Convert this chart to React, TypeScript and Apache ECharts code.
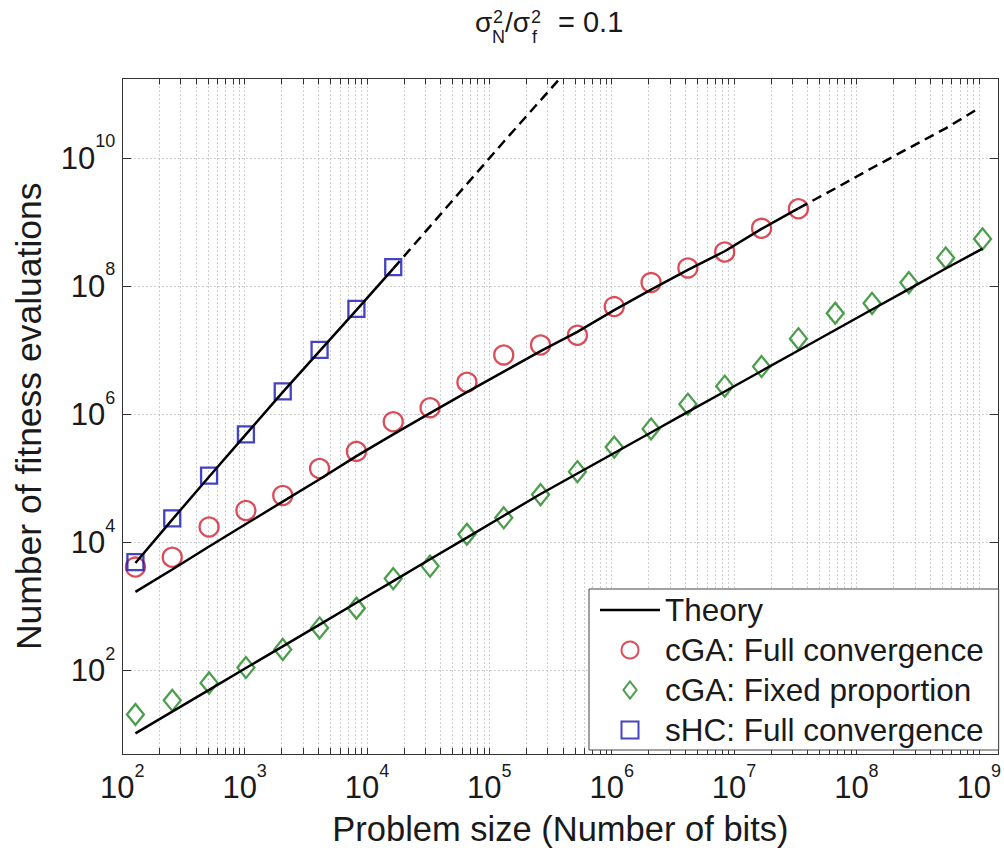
import React, { useEffect, useRef } from "react";
import * as echarts from "echarts";

const FONT = "'Liberation Sans', Arial, Helvetica, sans-serif";
const TXT = "#1a1a1a";

// ---- axis ticks ----
const xMajorTicks = [1e2, 1e3, 1e4, 1e5, 1e6, 1e7, 1e8, 1e9];
const xMinorMultipliers = [2, 3, 4, 5, 6, 7, 8, 9];
const yMajorTicks = [1e2, 1e4, 1e6, 1e8, 1e10];
const xRange = [100, 1.452e9];
const yRange = [5, 1.77e11];

// ---- sHC: full convergence ----
const shcN = [128, 256, 512, 1024, 2048, 4096, 8192, 16384];
const shcEvals = [4.95e3, 2.39e4, 1.11e5, 4.92e5, 2.3e6, 1.02e7, 4.46e7, 2.0e8];
const shcTheory = [4.8e3, 2.29e4, 1.07e5, 4.9e5, 2.24e6, 9.8e6, 4.27e7, 1.9e8];
const shcExtN = [16384, 32768, 65536, 131072, 262144, 524288];
const shcExtTheory = [1.9e8, 8.7e8, 3.98e9, 1.82e10, 8.1e10, 3.6e11];

// ---- cGA: full convergence ----
const cgaFullN = [128, 256, 512, 1024, 2048, 4096, 8192, 16384, 32768, 65536, 131072, 262144, 524288, 1048576, 2097152, 4194304, 8388608, 16777216, 33554432];
const cgaFullEvals = [4.15e3, 5.9e3, 1.75e4, 3.17e4, 5.46e4, 1.44e5, 2.66e5, 7.73e5, 1.28e6, 3.19e6, 8.53e6, 1.22e7, 1.73e7, 4.85e7, 1.15e8, 1.95e8, 3.45e8, 8.09e8, 1.64e9];
const cgaFullTheory = [1.7e3, 3.8e3, 8.71e3, 1.95e4, 4.37e4, 9.77e4, 2.24e5, 4.9e5, 1.05e6, 2.24e6, 4.68e6, 9.77e6, 1.95e7, 4.27e7, 8.91e7, 1.82e8, 3.55e8, 7.94e8, 1.66e9];
const cgaFullExtN = [33554432, 67108864, 134217728, 268435456, 536870912, 1e9];
const cgaFullExtTheory = [1.66e9, 3.39e9, 7.08e9, 1.45e10, 2.95e10, 6.07e10];

// ---- cGA: fixed proportion ----
const cgaFixedN = [128, 256, 512, 1024, 2048, 4096, 8192, 16384, 32768, 65536, 131072, 262144, 524288, 1048576, 2097152, 4194304, 8388608, 16777216, 33554432, 67108864, 134217728, 268435456, 536870912, 1073741824];
const cgaFixedEvals = [20.7, 34.5, 64.4, 112, 215, 465, 944, 2.74e3, 4.3e3, 1.35e4, 2.44e4, 5.62e4, 1.28e5, 3.1e5, 5.96e5, 1.45e6, 2.77e6, 5.62e6, 1.53e7, 3.82e7, 5.45e7, 1.15e8, 2.79e8, 5.53e8];
const cgaFixedTheory = [10.5, 22.9, 50.1, 110, 240, 525, 1.15e3, 2.51e3, 5.5e3, 1.2e4, 2.63e4, 5.75e4, 1.2e5, 2.51e5, 5.25e5, 1.1e6, 2.29e6, 4.79e6, 1.0e7, 2.09e7, 4.37e7, 9.12e7, 1.91e8, 3.89e8];

const legendNames = ["Theory", "cGA: Full convergence", "cGA: Fixed proportion", "sHC: Full convergence"];
const legendIcons = [
  "path://M0,0L60,0L60,2.6L0,2.6Z",
  "circle",
  "path://M7,0L14,9L7,18L0,9Z",
  "path://M0,0L14,0L14,14L0,14Z",
];

const zip = (xs: number[], ys: number[]) => xs.map((x, i) => [x, ys[i]]);

const xAllTicks: number[] = [];
xMajorTicks.forEach((d) => {
  xAllTicks.push(d);
  xMinorMultipliers.forEach((m) => {
    if (m * d <= xRange[1]) xAllTicks.push(m * d);
  });
});

const expLabel = (v: number) => `{b|10}{s|${Math.round(Math.log10(v))}}`;
const richLabel = {
  b: { fontSize: 31, fontFamily: FONT, color: TXT, lineHeight: 52 },
  s: { fontSize: 18, fontFamily: FONT, color: TXT, lineHeight: 18, verticalAlign: "top" },
};

const axisLineStyle = { color: "#333", width: 1 };
const gridLineStyle = { type: [1.2, 2.8], color: "#b0b0b0", width: 1 };

const theoryLine = (name: string, data: number[][], dashed: boolean) => ({
  type: "line",
  name,
  data,
  symbol: "none",
  silent: true,
  clip: true,
  color: "#000",
  itemStyle: { color: "#000" },
  lineStyle: { color: "#000", width: 2.5, type: dashed ? [10, 6] : "solid" },
  emphasis: { disabled: true },
});

const markerSeries = (name: string, data: number[][], symbol: string, size: any, color: string) => ({
  type: "scatter",
  name,
  data,
  symbol,
  symbolSize: size,
  clip: false,
  silent: true,
  color,
  itemStyle: { color: "rgba(255,255,255,0)", borderColor: color, borderWidth: 2.3 },
  emphasis: { disabled: true },
});

const titleParts = [
  { text: "σ", x: 475, y: 22.3, size: 28 },
  { text: "2", x: 493, y: 16.8, size: 18 },
  { text: "N", x: 492, y: 36.8, size: 18 },
  { text: "/σ", x: 505, y: 22.3, size: 28 },
  { text: "2", x: 531, y: 16.8, size: 18 },
  { text: "f", x: 532, y: 36.8, size: 18 },
  { text: "= 0.1", x: 558, y: 22.3, size: 29 },
];

export default function App() {
  const ref = useRef<HTMLDivElement>(null);

  useEffect(() => {
    if (!ref.current) return;
    const chart = echarts.init(ref.current, undefined, { renderer: "svg" });

    const option: any = {
      animation: false,
      backgroundColor: "#fff",
      textStyle: { fontFamily: FONT },
      grid: { left: 122.3, top: 78.5, right: 1.6, bottom: 88, containLabel: false },
      graphic: titleParts.map((p) => ({
        type: "text",
        x: p.x,
        y: p.y,
        silent: true,
        style: {
          text: p.text,
          fontSize: p.size,
          fontFamily: FONT,
          fill: TXT,
          align: "left",
          verticalAlign: "middle",
          textAlign: "left",
          textVerticalAlign: "middle",
        },
      })),
      legend: {
        orient: "vertical",
        left: 589,
        top: 589,
        data: legendNames.map((n, i) => ({ name: n, icon: legendIcons[i] })),
        itemWidth: 60,
        itemHeight: 17,
        itemGap: 6,
        symbolKeepAspect: true,
        padding: [4, 15, 3, 11],
        backgroundColor: "#fff",
        borderColor: "#444",
        borderWidth: 1,
        borderRadius: 0,
        selectedMode: false,
        textStyle: { fontSize: 31.5, fontFamily: FONT, color: TXT, lineHeight: 34 },
      },
      xAxis: [
        {
          type: "log",
          logBase: 10,
          min: xRange[0],
          max: xRange[1],
          position: "bottom",
          name: "Problem size (Number of bits)",
          nameLocation: "middle",
          nameGap: 57,
          nameTextStyle: { fontSize: 34.5, fontFamily: FONT, color: TXT },
          axisLine: { show: true, onZero: false, lineStyle: axisLineStyle },
          axisTick: { show: true, inside: true, length: 6, customValues: xAllTicks, lineStyle: axisLineStyle },
          axisLabel: { customValues: xMajorTicks, formatter: expLabel, rich: richLabel, margin: 7.5 },
          splitLine: { show: true, lineStyle: gridLineStyle },
        },
        {
          type: "log",
          logBase: 10,
          min: xRange[0],
          max: xRange[1],
          position: "top",
          axisLine: { show: true, onZero: false, lineStyle: axisLineStyle },
          axisTick: { show: true, inside: true, length: 6, customValues: xAllTicks, lineStyle: axisLineStyle },
          axisLabel: { show: false },
          splitLine: { show: false },
        },
      ],
      yAxis: [
        {
          type: "log",
          logBase: 10,
          min: yRange[0],
          max: yRange[1],
          position: "left",
          name: "Number of fitness evaluations",
          nameLocation: "middle",
          nameGap: 75,
          nameTextStyle: { fontSize: 35.5, fontFamily: FONT, color: TXT },
          axisLine: { show: true, onZero: false, lineStyle: axisLineStyle },
          axisTick: { show: true, inside: true, length: 9, customValues: yMajorTicks, lineStyle: axisLineStyle },
          axisLabel: { customValues: yMajorTicks, formatter: expLabel, rich: richLabel, margin: 7 },
          splitLine: { show: true, lineStyle: gridLineStyle },
        },
        {
          type: "log",
          logBase: 10,
          min: yRange[0],
          max: yRange[1],
          position: "right",
          axisLine: { show: true, onZero: false, lineStyle: axisLineStyle },
          axisTick: { show: true, inside: true, length: 9, customValues: yMajorTicks, lineStyle: axisLineStyle },
          axisLabel: { show: false },
          splitLine: { show: false },
        },
      ],
      series: [
        markerSeries("cGA: Full convergence", zip(cgaFullN, cgaFullEvals), "circle", 19, "#d11f2d"),
        markerSeries("cGA: Fixed proportion", zip(cgaFixedN, cgaFixedEvals), "diamond", [17, 21], "#1e861e"),
        markerSeries("sHC: Full convergence", zip(shcN, shcEvals), "rect", 16, "#1414b4"),
        theoryLine("Theory", zip(shcN, shcTheory), false),
        theoryLine("Theory", zip(cgaFullN, cgaFullTheory), false),
        theoryLine("Theory", zip(cgaFixedN, cgaFixedTheory), false),
        theoryLine("Theory extrapolated", zip(shcExtN, shcExtTheory), true),
        theoryLine("Theory extrapolated", zip(cgaFullExtN, cgaFullExtTheory), true),
      ],
    };

    chart.setOption(option);
    return () => chart.dispose();
  }, []);

  return (
    <div
      ref={ref}
      style={{ position: "absolute", left: 0, top: 0, width: 1004, height: 851, background: "#fff" }}
    />
  );
}
